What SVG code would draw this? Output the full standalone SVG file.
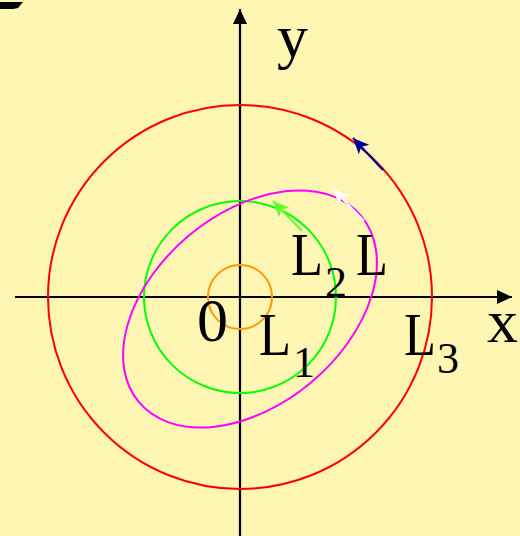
<svg xmlns="http://www.w3.org/2000/svg" width="520" height="536" viewBox="0 0 520 536">
<defs>
<marker id="ah-black" markerUnits="userSpaceOnUse" markerWidth="16" markerHeight="14" refX="15" refY="7" orient="auto"><path d="M0,0 L15,7 L0,14 z" fill="#000"/></marker>
<marker id="ah-navy" markerUnits="userSpaceOnUse" markerWidth="17" markerHeight="14" refX="16" refY="7" orient="auto"><path d="M0,0 L16,7 L0,14 L4,7 z" fill="#000099"/></marker>
<marker id="ah-lgreen" markerUnits="userSpaceOnUse" markerWidth="17" markerHeight="14" refX="16" refY="7" orient="auto"><path d="M0,0 L16,7 L0,14 L4,7 z" fill="#66FF33"/></marker>
<marker id="ah-white" markerUnits="userSpaceOnUse" markerWidth="17" markerHeight="14" refX="16" refY="7" orient="auto"><path d="M0,0 L16,7 L0,14 L4,7 z" fill="#FFFFFF"/></marker>
</defs>
<style>
.lbl{font-family:"Liberation Serif","DejaVu Serif",serif;font-size:62px;fill:#000}
.sub{font-family:"Liberation Serif","DejaVu Serif",serif;font-size:44px;fill:#000}
.orbit{fill:none;stroke-width:2}
.axis{stroke:#000;stroke-width:2.2;fill:none}
</style>
<rect x="0" y="0" width="520" height="536" fill="#FFF6B4"/>
<polygon points="0,2 23,2 18,8 13,9 0,9" fill="#000"/>
<g id="connectors">
<line class="axis" x1="15" y1="297" x2="512" y2="297" marker-end="url(#ah-black)"/>
<line class="axis" x1="240" y1="536" x2="240" y2="9" marker-end="url(#ah-black)"/>
</g>
<g id="L3"><circle class="orbit" cx="240" cy="297" r="192" stroke="#FF0000"/></g>
<g id="L2"><circle class="orbit" cx="240" cy="297" r="96" stroke="#00FF00"/></g>
<g id="L1"><circle class="orbit" cx="240" cy="297" r="32" stroke="#FF9900"/></g>
<g id="L"><ellipse class="orbit" cx="250" cy="309" rx="145" ry="95.5" transform="rotate(-40 250 309)" stroke="#FF00FF"/></g>
<g id="arrows">
<line x1="383" y1="170" x2="353" y2="138" stroke="#000099" stroke-width="2" marker-end="url(#ah-navy)"/>
<line x1="302" y1="231" x2="273" y2="201" stroke="#66FF33" stroke-width="2" marker-end="url(#ah-lgreen)"/>
<line x1="364" y1="221" x2="333" y2="189" stroke="#FFFFFF" stroke-width="2" marker-end="url(#ah-white)"/>
</g>
<g id="labels">
<text class="lbl" x="277" y="57">y</text>
<text class="lbl" x="487" y="342">x</text>
<text class="lbl" x="197" y="341">0</text>
<g id="label-L2"><text class="lbl" x="291" y="275" textLength="32" lengthAdjust="spacingAndGlyphs">L</text><text class="sub" x="325" y="297">2</text></g>
<text class="lbl" x="356" y="275" textLength="32" lengthAdjust="spacingAndGlyphs">L</text>
<g id="label-L1"><text class="lbl" x="259" y="355" textLength="32" lengthAdjust="spacingAndGlyphs">L</text><text class="sub" x="293" y="377">1</text></g>
<g id="label-L3"><text class="lbl" x="404" y="355" textLength="32" lengthAdjust="spacingAndGlyphs">L</text><text class="sub" x="437" y="373">3</text></g>
</g>
</svg>
